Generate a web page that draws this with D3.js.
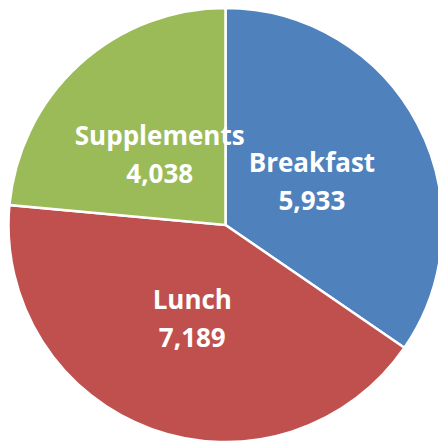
<!DOCTYPE html>
<head>
  <meta charset="utf-8" />
  <script src="https://d3js.org/d3.v7.min.js"></script>
  <style>
    body {
      margin: 0;
      background: #fff;
    }
    .label {
      font-family: "Open Sans", "Noto Sans", sans-serif;
      font-weight: bold;
      font-size: 26px;
      fill: #fff;
    }
  </style>
</head>

<body>
  <script>
    // data
    var categories = ["Breakfast", "Lunch", "Supplements"];
    var values = [5933, 7189, 4038];
    var colors = ["#4F81BD", "#C0504D", "#9BBB59"];

    var width = 438,
      height = 442;
    var cx = 225.5,
      cy = 225,
      radius = 217;

    var svg = d3
      .select("body")
      .append("svg")
      .attr("width", width)
      .attr("height", height);

    var g = svg.append("g").attr("transform", "translate(" + cx + "," + cy + ")");

    var table = categories.map(function (c, i) {
      return { name: c, value: values[i] };
    });

    var color = d3.scaleOrdinal().domain(categories).range(colors);

    var pie = d3
      .pie()
      .sort(null)
      .value(function (d) { return d.value; });

    var arc = d3.arc().innerRadius(0).outerRadius(radius);
    // labels sit a bit inside the slice middle, like excel does
    var labelArc = d3.arc().innerRadius(radius * 0.45).outerRadius(radius * 0.45);

    var slices = pie(table);

    g.selectAll("path")
      .data(slices)
      .join("path")
      .attr("d", arc)
      .attr("fill", function (d) { return color(d.data.name); })
      .attr("stroke", "#fff")
      .attr("stroke-width", 2.5)
      .attr("stroke-linejoin", "miter");

    var fmt = d3.format(",");

    var labels = g.selectAll("text")
      .data(slices)
      .join("text")
      .attr("class", "label")
      .attr("text-anchor", "middle")
      .attr("transform", function (d) {
        var c = labelArc.centroid(d);
        return "translate(" + c[0] + "," + c[1] + ")";
      });

    labels.append("tspan")
      .attr("x", 0)
      .attr("y", -8)
      .text(function (d) { return d.data.name; });

    labels.append("tspan")
      .attr("x", 0)
      .attr("y", 30)
      .text(function (d) { return fmt(d.data.value); });
  </script>
</body>
